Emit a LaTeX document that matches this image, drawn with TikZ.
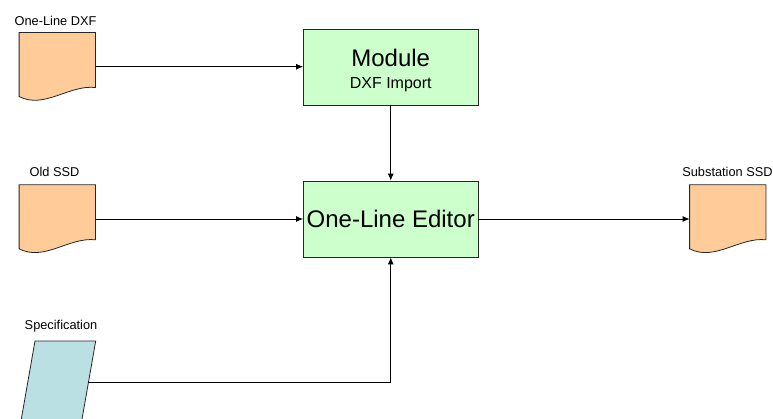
\documentclass[tikz,border=0pt]{standalone}
\usepackage{fontspec}
\setmainfont{Liberation Sans}
\usetikzlibrary{arrows.meta,calc}
\definecolor{peach}{HTML}{FFCC99}
\definecolor{mint}{HTML}{CCFFCC}
\definecolor{paleblue}{HTML}{BBE0E3}
\begin{document}
\begin{tikzpicture}[x=1pt,y=1pt,
  box/.style={draw=black!85, fill=mint, line width=0.8pt, minimum width=174.5pt, minimum height=76pt, inner sep=0pt},
  docnode/.style={minimum width=76.4pt, minimum height=68pt, inner sep=0pt},
  shapeline/.style={draw=black!85, line width=0.8pt},
  lbl/.style={font=\fontsize{12.8}{14}\selectfont, anchor=base, inner sep=0pt},
  big/.style={font=\fontsize{24}{28}\selectfont, anchor=base, inner sep=0pt},
  small/.style={font=\fontsize{16}{18}\selectfont, anchor=base, inner sep=0pt},
  conn/.style={line width=0.9pt, -{Latex[length=7pt,width=6pt]}}
]
\useasboundingbox (0,0) rectangle (773,-418);
\clip (0,0) rectangle (773,-418);

% process boxes
\node[box] (mod) at (390.75,-67) {};
\node[box] (ed) at (390.75,-219) {};
\node[big] (modt) at (390.75,-66.7) {Module};
\node[small] (modsub) at (390.75,-88.7) {DXF Import};
\node[big] (edt) at (390.75,-227.3) {One-Line Editor};

% documents
\node[docnode] (d1) at (57.5,-66.7) {};
\path[shapeline, fill=peach, shift={(d1.north west)}] (0,0) -- (76.4,0) -- (76.4,-55) .. controls (50,-52) and (25,-77) .. (0,-64) -- cycle;
\node[lbl] (l1) at (55.5,-25.3) {One-Line DXF};

\node[docnode] (d2) at (57.5,-219) {};
\path[shapeline, fill=peach, shift={(d2.north west)}] (0,0) -- (76.4,0) -- (76.4,-55) .. controls (50,-52) and (25,-77) .. (0,-64) -- cycle;
\node[lbl] (l2) at (54.5,-176) {Old SSD};

\node[docnode] (d3) at (728,-219) {};
\path[shapeline, fill=peach, shift={(d3.north west)}] (0,0) -- (76.4,0) -- (76.4,-55) .. controls (50,-52) and (25,-77) .. (0,-64) -- cycle;
\node[lbl] (l3) at (727.5,-176.8) {Substation SSD};

% specification (parallelogram, cut by the lower edge)
\path[shapeline, fill=paleblue] (35,-341) -- (95.7,-341) -- (80.1,-430) -- (19.4,-430) -- cycle;
\coordinate (spE) at (88.4,-382.7);
\node[lbl] (l4) at (61,-329) {Specification};

% connectors
\draw[conn] (d1.east) -- (d1.east -| mod.west);
\draw[conn] (mod.south) -- (ed.north);
\draw[conn] (d2.east) -- (d2.east -| ed.west);
\draw[conn] (ed.east) -- (ed.east -| d3.west);
\draw[conn] (spE) -| (ed.south);
\end{tikzpicture}
\end{document}
